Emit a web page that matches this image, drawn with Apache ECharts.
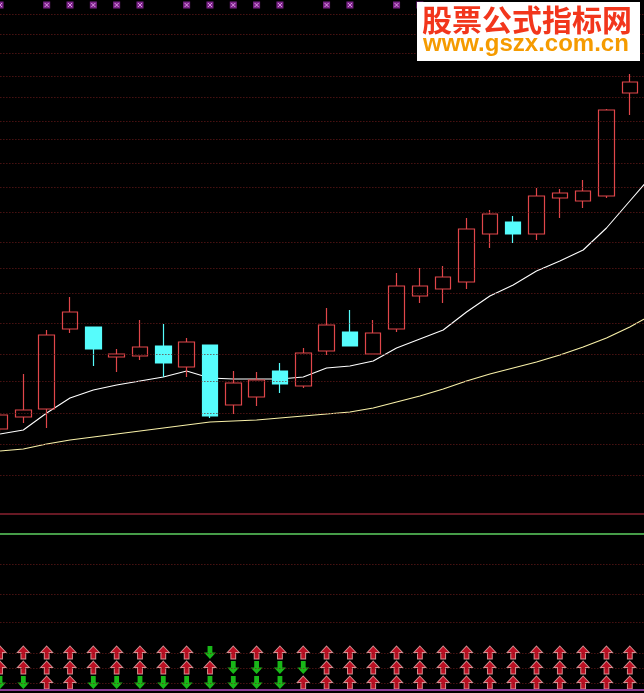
<!DOCTYPE html>
<html><head><meta charset="utf-8">
<style>html,body{margin:0;padding:0;background:#000;}#c{width:644px;height:693px;}</style>
<script src="https://cdn.jsdelivr.net/npm/echarts@6/dist/echarts.min.js"></script>
</head><body><div id="c"></div>
<script>
const days = ['D01','D02','D03','D04','D05','D06','D07','D08','D09','D10','D11','D12','D13','D14','D15','D16','D17','D18','D19','D20','D21','D22','D23','D24','D25','D26','D27','D28','D29'];
const kOpen  = [9.71,9.83,9.91,10.71,10.73,10.43,10.44,10.54,10.33,10.55,9.95,10.03,10.29,10.14,10.49,10.68,10.46,10.71,11.04,11.11,11.18,11.66,11.78,11.66,12.02,11.99,12.04,13.07,13.22];
const kClose = [9.85,9.90,10.65,10.88,10.51,10.46,10.53,10.37,10.58,9.84,10.17,10.20,10.16,10.47,10.75,10.54,10.67,11.14,11.14,11.23,11.71,11.86,11.66,12.04,12.07,12.09,12.90,13.18,13.40];
const kLow   = [9.68,9.77,9.72,10.67,10.34,10.28,10.40,10.23,10.23,9.82,9.86,9.94,10.07,10.12,10.45,10.54,10.46,10.68,10.97,10.97,11.11,11.52,11.57,11.60,11.82,11.92,12.02,12.85,13.20];
const kHigh  = [9.87,10.26,10.70,11.03,10.73,10.51,10.80,10.76,10.62,10.55,10.29,10.28,10.37,10.52,10.92,10.90,10.80,11.27,11.32,11.34,11.82,11.90,11.84,12.12,12.11,12.20,12.91,13.26,13.45];
const maFast = [9.66,9.70,9.87,10.02,10.10,10.15,10.19,10.23,10.29,10.22,10.21,10.21,10.21,10.23,10.32,10.34,10.39,10.52,10.61,10.70,10.88,11.04,11.15,11.29,11.39,11.50,11.72,11.99,12.26];
const maSlow = [9.49,9.51,9.56,9.60,9.63,9.66,9.69,9.72,9.75,9.78,9.79,9.80,9.82,9.84,9.86,9.88,9.92,9.98,10.04,10.11,10.19,10.26,10.32,10.38,10.45,10.53,10.62,10.73,10.86];
const gridLevels = [13.86,13.66,13.47,13.24,13.03,12.79,12.61,12.37,12.13,11.88,11.58,11.32,11.07,10.77,10.46,10.19,9.87,9.56,9.25,8.36,8.06,7.78,7.47,7.32,7.17];
const redLevel = 8.86, greenLevel = 8.66, baseLevel = 7.10;
const signalRows = ['r1','r2','r3'];
const signal1 = [1,1,1,1,1,1,1,1,1,-1,1,1,1,1,1,1,1,1,1,1,1,1,1,1,1,1,1,1];
const signal2 = [1,1,1,1,1,1,1,1,1,1,-1,-1,-1,-1,1,1,1,1,1,1,1,1,1,1,1,1,1,1];
const signal3 = [-1,-1,1,1,-1,-1,-1,-1,-1,-1,-1,-1,-1,1,1,1,1,1,1,1,1,1,1,1,1,1,1,1];
const markDays = [0,2,3,4,5,6,8,9,10,11,12,14,15,17,18];

const kData = kOpen.map((o,i)=>[o,kClose[i],kLow[i],kHigh[i]]);
const upPath = 'path://M5,0 L10,5 L7,5 L7,10 L3,10 L3,5 L0,5 Z';
const downPath = 'path://M3,0 L7,0 L7,5 L10,5 L5,10 L0,5 L3,5 Z';
const sigPts = (dir)=>{
  const out=[];
  [signal1,signal2,signal3].forEach((row,r)=>row.forEach((v,i)=>{ if(v===dir) out.push([i,r]); }));
  return out;
};
const gx = {left:-11.63, right:-20.8, outerBoundsMode:'none', containLabel:false};
const chart = echarts.init(document.getElementById('c'));
chart.setOption({
  backgroundColor:'#000',
  animation:false,
  grid:[
    Object.assign({top:0,bottom:0},gx),
    Object.assign({top:645,height:45},gx),
    Object.assign({top:0,height:10},gx)
  ],
  xAxis:[0,1,2].map(g=>({type:'category',gridIndex:g,data:days,boundaryGap:true,show:false})),
  yAxis:[
    {type:'value',gridIndex:0,min:7.07,max:14,show:false,splitLine:{show:false}},
    {type:'category',gridIndex:1,data:signalRows,inverse:true,show:false},
    {type:'value',gridIndex:2,min:0,max:1,show:false}
  ],
  series:[
    {type:'line',xAxisIndex:0,yAxisIndex:0,data:[],z:1,silent:true,
     markLine:{symbol:'none',silent:true,label:{show:false},animation:false,
       data:gridLevels.map(v=>({yAxis:v,lineStyle:{color:'#6e1c1c',type:[1,2],width:1}})).concat([
         {yAxis:redLevel,lineStyle:{color:'#8a2230',type:'solid',width:1.5}},
         {yAxis:greenLevel,lineStyle:{color:'#5ed060',type:'solid',width:1.5}},
         {yAxis:baseLevel,lineStyle:{color:'#8a3c96',type:'solid',width:2}}
       ])}},
    {type:'line',xAxisIndex:0,yAxisIndex:0,data:maSlow,showSymbol:false,z:2,
     lineStyle:{color:'#f8f0a8',width:1.2}},
    {type:'line',xAxisIndex:0,yAxisIndex:0,data:maFast,showSymbol:false,z:2,
     lineStyle:{color:'#ffffff',width:1.1}},
    {type:'candlestick',xAxisIndex:0,yAxisIndex:0,data:kData,barWidth:16,z:3,
     itemStyle:{color:'transparent',color0:'#56fcfc',borderColor:'#e0464a',borderColor0:'#56fcfc',borderWidth:1.2}},
    {type:'scatter',xAxisIndex:1,yAxisIndex:1,data:sigPts(1),symbol:upPath,symbolSize:[12,13],z:4,
     itemStyle:{color:'#e8142c',borderColor:'#f4b4b4',borderWidth:1}},
    {type:'scatter',xAxisIndex:1,yAxisIndex:1,data:sigPts(-1),symbol:downPath,symbolSize:[12,13],z:4,
     itemStyle:{color:'#1ee61e'}},
    {type:'scatter',xAxisIndex:2,yAxisIndex:2,data:markDays.map(i=>[i,0.5]),symbol:'rect',symbolSize:7,z:4,
     itemStyle:{color:'#9a2aaa'}},
    {type:'scatter',xAxisIndex:2,yAxisIndex:2,data:markDays.map(i=>[i,0.5]),symbol:'path://M0,0 L10,10 M10,0 L0,10',symbolSize:4,z:5,
     itemStyle:{color:'none',borderColor:'#f0b0f8',borderWidth:1}}
  ],
  graphic:[
    {type:'rect',shape:{x:417,y:2,width:223,height:59},style:{fill:'#ffffff'},z:100},
    {type:'text',x:422,y:5,z:101,style:{text:'股票公式指标网',font:'bold 30px "Noto Sans CJK SC"',fill:'#f2361c',textVerticalAlign:'top'}},
    {type:'text',x:423,y:32,z:101,style:{text:'www.gszx.com.cn',font:'bold 24px "Liberation Sans"',fill:'#f59b00',textVerticalAlign:'top'}}
  ]
});
</script>
</body></html>
